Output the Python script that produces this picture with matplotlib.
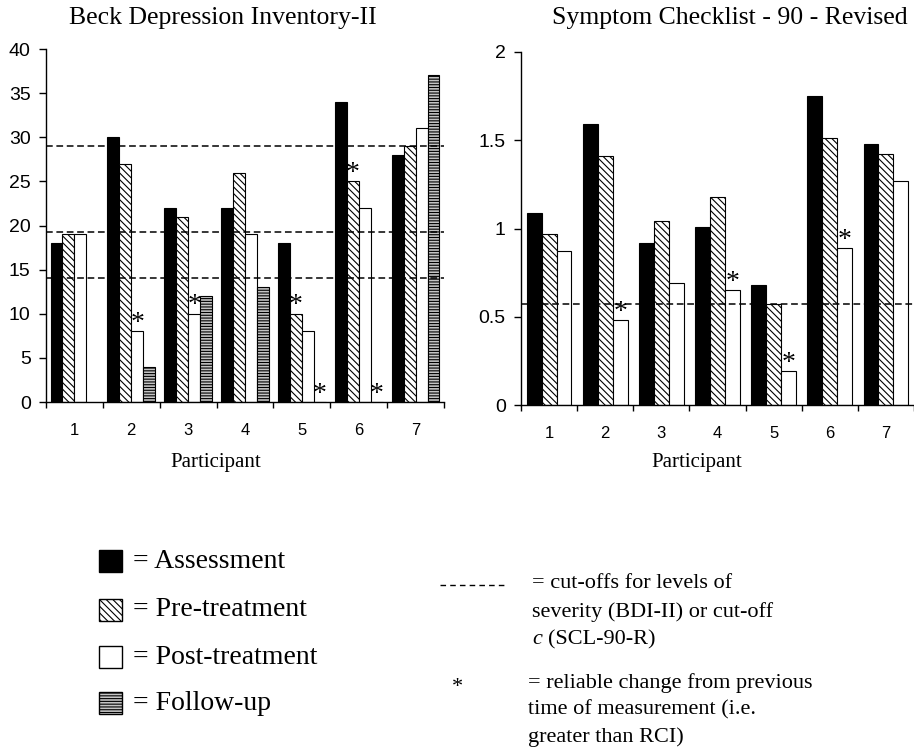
import numpy as np
import matplotlib.pyplot as plt
from matplotlib.patches import Rectangle
from matplotlib.lines import Line2D

plt.rcParams["font.family"] = "Liberation Sans"
plt.rcParams["hatch.linewidth"] = 0.8
SERIF = "Liberation Serif"

participants = [1, 2, 3, 4, 5, 6, 7]
series_names = ["Assessment", "Pre-treatment", "Post-treatment", "Follow-up"]

# Beck Depression Inventory-II scores
bdi_assessment = [18, 30, 22, 22, 18, 34, 28]
bdi_pre = [19, 27, 21, 26, 10, 25, 29]
bdi_post = [19, 8, 10, 19, 8, 22, 31]
bdi_follow = [np.nan, 4, 12, 13, 0, 0, 37]
bdi_cutoffs = [14, 19.3, 29]
# (participant index, series index) with reliable change
bdi_reliable = [(1, 2), (2, 2), (4, 1), (4, 3), (5, 1), (5, 3)]

# Symptom Checklist-90-Revised (GSI)
scl_assessment = [1.09, 1.59, 0.92, 1.01, 0.68, 1.75, 1.48]
scl_pre = [0.97, 1.41, 1.04, 1.18, 0.57, 1.51, 1.42]
scl_post = [0.87, 0.48, 0.69, 0.65, 0.19, 0.89, 1.27]
scl_cutoff = [0.57]
scl_reliable = [(1, 2), (3, 2), (4, 2), (5, 2)]

STYLES = [
    dict(facecolor="black", hatch=None),
    dict(facecolor="white", hatch="\\\\\\\\\\"),
    dict(facecolor="white", hatch=None),
    dict(facecolor="#c4c4c4", hatch="------"),
]


def draw_panel(ax, groups, bar_w, cutoffs, reliable, yticks, yticklabels, ymax, xmax):
    x = np.array(participants, dtype=float)
    n = len(groups)
    for i, vals in enumerate(groups):
        pos = x + (i - (n - 1) / 2) * bar_w
        ax.bar(pos, vals, width=bar_w, edgecolor="black", linewidth=0.8,
               zorder=2, **STYLES[i])
    for p, s in reliable:
        xp = x[p] + (s - (n - 1) / 2) * bar_w
        ax.annotate("*", xy=(xp, groups[s][p]), xytext=(0, 1),
                    textcoords="offset points", ha="center", va="baseline",
                    fontsize=20, family=SERIF, zorder=4)
    for c in cutoffs:
        ax.axhline(c, color="black", linewidth=1.1, dashes=(4.4, 2.4), zorder=3)

    ax.set_xlim(0.5, xmax)
    ax.set_ylim(0, ymax)
    ax.set_yticks(yticks)
    ax.set_yticklabels(yticklabels)
    ax.set_xticks(participants)
    ax.set_xticklabels([str(p) for p in participants])
    ax.set_xticks(np.arange(0.5, 8, 1.0), minor=True)
    ax.tick_params(axis="x", which="major", length=0, pad=15, labelsize=12)
    ax.tick_params(axis="x", which="minor", length=4, width=1, direction="out")
    ax.tick_params(axis="y", length=5, width=1, pad=6, labelsize=14)
    for side in ("top", "right"):
        ax.spines[side].set_visible(False)
    for side in ("left", "bottom"):
        ax.spines[side].set_linewidth(1.0)
    ax.spines["bottom"].set_bounds(0.5, 7.5)


W, H = 914, 748
fig = plt.figure(figsize=(W / 100, H / 100), dpi=100)

ax1 = fig.add_axes([46 / W, 1 - 402 / H, 398 / W, 353 / H])
draw_panel(ax1, [bdi_assessment, bdi_pre, bdi_post, bdi_follow], 0.21,
           bdi_cutoffs, bdi_reliable, range(0, 41, 5),
           [str(v) for v in range(0, 41, 5)], 40, 7.5)

ax2 = fig.add_axes([521 / W, 1 - 405 / H, 393 / W, 353 / H])
draw_panel(ax2, [scl_assessment, scl_pre, scl_post], 0.265,
           scl_cutoff, scl_reliable, [0, 0.5, 1, 1.5, 2],
           ["0", "0.5", "1", "1.5", "2"], 2, 0.5 + 393 / 56.5)

fig.text(223 / W, 1 - 18 / H, "Beck Depression Inventory-II",
         ha="center", va="center", family=SERIF, fontsize=18.5)
fig.text(908 / W, 1 - 18 / H, "Symptom Checklist - 90 - Revised",
         ha="right", va="center", family=SERIF, fontsize=18.5)
fig.text(216 / W, 1 - 462 / H, "Participant", ha="center", va="center",
         family=SERIF, fontsize=15)
fig.text(697 / W, 1 - 462 / H, "Participant", ha="center", va="center",
         family=SERIF, fontsize=15)

# key drawn in pixel coordinates on a transparent overlay
key = fig.add_axes([0, 0, 1, 1])
key.set_xlim(0, W)
key.set_ylim(H, 0)
key.axis("off")

row_y = [561, 610, 657, 703]
for i, (name, y) in enumerate(zip(series_names, row_y)):
    key.add_patch(Rectangle((99, y - 11), 23, 22, edgecolor="black",
                            linewidth=1.0, **STYLES[i]))
    key.text(133, y, "= " + name, ha="left", va="center", family=SERIF,
             fontsize=20)

key.add_line(Line2D([440, 505], [585, 585], color="black", linewidth=1.0,
                    dashes=(4.0, 3.0)))
key.text(532, 583, "= cut-offs for levels of", ha="left", va="center",
         family=SERIF, fontsize=16)
key.text(532, 612, "severity (BDI-II) or cut-off", ha="left", va="center",
         family=SERIF, fontsize=16)
key.text(532, 640, "c", ha="left", va="center", family=SERIF, fontsize=16,
         style="italic")
key.text(548, 640, "(SCL-90-R)", ha="left", va="center", family=SERIF,
         fontsize=16)

key.text(457, 688, "*", ha="center", va="center", family=SERIF, fontsize=16)
key.text(528, 683, "= reliable change from previous", ha="left", va="center",
         family=SERIF, fontsize=16)
key.text(528, 710, "time of measurement (i.e.", ha="left", va="center",
         family=SERIF, fontsize=16)
key.text(528, 737, "greater than RCI)", ha="left", va="center",
         family=SERIF, fontsize=16)

fig.savefig("out.png", dpi=100)
